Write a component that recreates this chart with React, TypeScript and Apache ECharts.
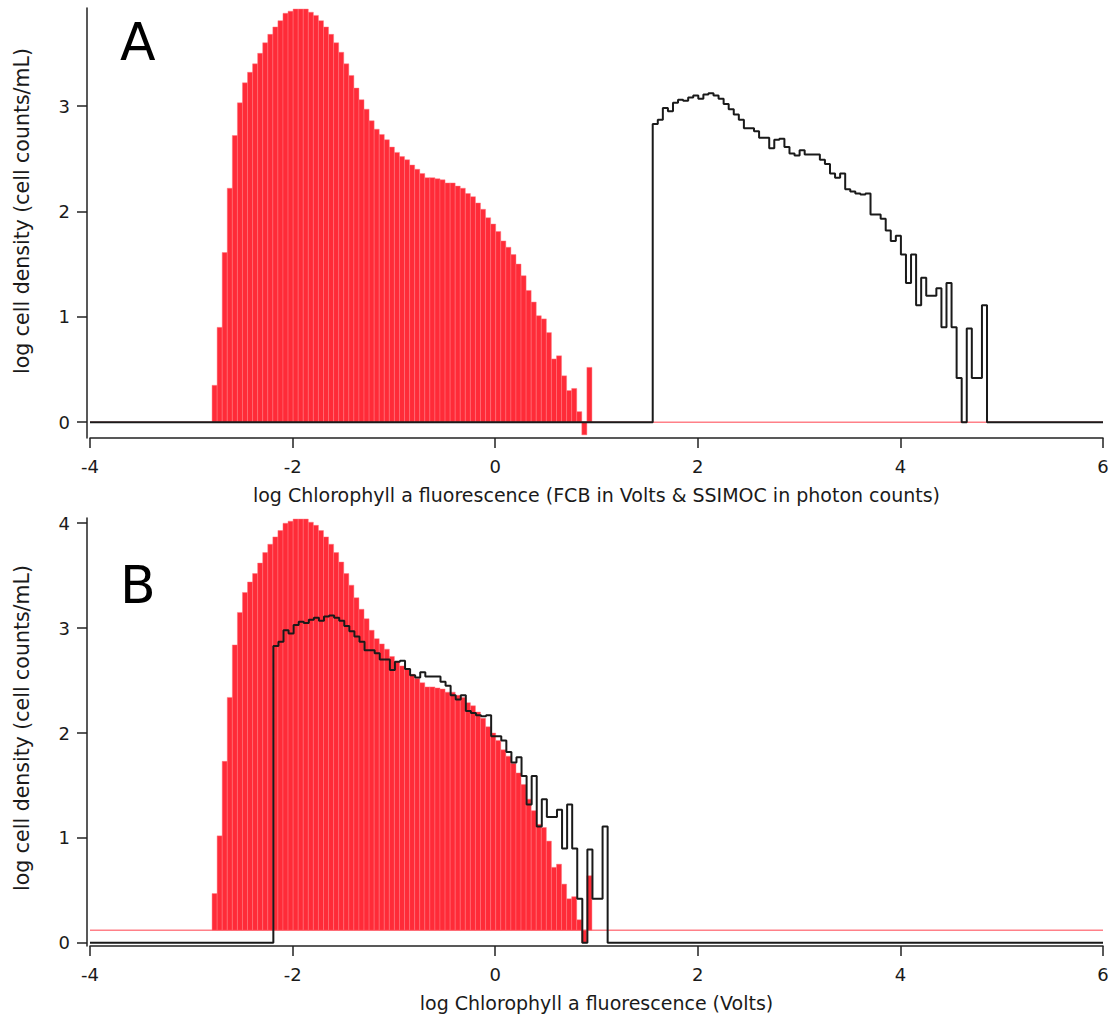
import React, { useEffect, useRef } from "react";
import * as echarts from "echarts";

// ---- tick labels ----
const X_TICKS = [-4, -2, 0, 2, 4, 6];
const Y_TICKS_A = [0, 1, 2, 3];
const Y_TICKS_B = [0, 1, 2, 3, 4];

// ---- texts ----
const X_TITLE_A = "log Chlorophyll a fluorescence (FCB in Volts & SSIMOC in photon counts)";
const X_TITLE_B = "log Chlorophyll a fluorescence (Volts)";
const Y_TITLE = "log cell density (cell counts/mL)";
const PANEL_LABELS = ["A", "B"];

// ---- red histogram (FCB) : bins of 0.05 log units ----
const RED_START = -2.795;
const RED_BIN = 0.05;
const RED_VALUES = [
  0.35, 0.9, 1.61, 2.22, 2.72, 3.03, 3.22, 3.32, 3.4, 3.5,
  3.6, 3.68, 3.75, 3.81, 3.88, 3.9, 3.92, 3.92, 3.92, 3.89,
  3.86, 3.81, 3.75, 3.68, 3.6, 3.51, 3.4, 3.29, 3.17, 3.06,
  2.97, 2.86, 2.78, 2.73, 2.68, 2.61, 2.56, 2.52, 2.49, 2.44,
  2.4, 2.36, 2.32, 2.32, 2.31, 2.3, 2.27, 2.27, 2.24, 2.22,
  2.17, 2.14, 2.08, 2.02, 1.94, 1.88, 1.81, 1.72, 1.66, 1.59,
  1.5, 1.39, 1.25, 1.14, 1.01, 0.98, 0.85, 0.6, 0.63, 0.44,
  0.3, 0.32, 0.1, -0.12, 0.52,
];
// baseline of the red histogram in each panel
const RED_BASE_A = 0;
const RED_BASE_B = 0.12;

// ---- black step histogram (SSIMOC) : bins of 0.05 log units ----
const BLACK_START_A = 1.555;
const BLACK_START_B = -2.19;
const BLACK_BIN = 0.05;
const BLACK_VALUES = [
  2.83, 2.87, 2.98, 2.95, 3.03, 3.06, 3.05, 3.08, 3.1, 3.07,
  3.11, 3.12, 3.1, 3.07, 3.02, 2.97, 2.92, 2.87, 2.79, 2.79,
  2.76, 2.7, 2.7, 2.6, 2.68, 2.69, 2.61, 2.55, 2.53, 2.58,
  2.54, 2.54, 2.54, 2.49, 2.45, 2.36, 2.32, 2.36, 2.21, 2.19,
  2.17, 2.16, 2.17, 1.97, 1.97, 1.93, 1.82, 1.72, 1.77, 1.59,
  1.32, 1.59, 1.11, 1.37, 1.2, 1.2, 1.27, 0.9, 1.32, 0.9,
  0.42, 0, 0.89, 0.42, 0.42, 1.11,
];

const X_MIN = -4;
const X_MAX = 6;
const Y_RANGE_A = [-0.15, 3.93];
const Y_RANGE_B = [-0.03, 4.05];

const FONT = "DejaVu Sans";
const TEXT_COLOR = "#1a1a1a";
const RED = "#ff2b38";
const RED_LINE = "#ff8088";
const BLACK = "#1a1a1a";

function redRows(base: number) {
  return RED_VALUES.map((v, i) => [
    RED_START + i * RED_BIN,
    RED_START + (i + 1) * RED_BIN,
    v + base,
    base,
  ]);
}

function blackPoints(start: number) {
  const pts: number[][] = [[X_MIN, 0]];
  BLACK_VALUES.forEach((v, i) => pts.push([start + i * BLACK_BIN, v]));
  pts.push([start + BLACK_VALUES.length * BLACK_BIN, 0]);
  pts.push([X_MAX, 0]);
  return pts;
}

export default function App() {
  const ref = useRef<HTMLDivElement>(null);

  useEffect(() => {
    if (!ref.current) return;
    const chart = echarts.init(ref.current, undefined, { renderer: "svg" });

    const renderBar = (params: any, api: any) => {
      const x0 = api.value(0);
      const x1 = api.value(1);
      const top = api.value(2);
      const base = api.value(3);
      const p0 = api.coord([x0, base]);
      const p1 = api.coord([x1, top]);
      return {
        type: "rect",
        shape: {
          x: p0[0],
          y: Math.min(p0[1], p1[1]),
          width: p1[0] - p0[0],
          height: Math.abs(p1[1] - p0[1]),
        },
        style: { fill: RED, stroke: "rgba(255,120,128,0.9)", lineWidth: 0.5 },
      };
    };

    const xAxisBase = (gridIndex: number, name: string) => ({
      type: "value",
      gridIndex,
      min: X_MIN,
      max: X_MAX,
      interval: 2,
      name,
      nameLocation: "middle",
      nameGap: 47,
      nameTextStyle: { fontFamily: FONT, fontSize: 19, color: TEXT_COLOR },
      axisLine: { show: true, onZero: false, lineStyle: { color: "#222", width: 1.5 } },
      axisTick: { show: true, inside: false, length: 10, lineStyle: { color: "#222", width: 1.5 } },
      axisLabel: {
        show: true,
        margin: 19,
        fontFamily: FONT,
        fontSize: 18,
        color: TEXT_COLOR,
        customValues: X_TICKS,
      },
      splitLine: { show: false },
    });

    const yAxisBase = (gridIndex: number, range: number[], ticks: number[]) => ({
      type: "value",
      gridIndex,
      min: range[0],
      max: range[1],
      offset: 3,
      axisLine: { show: true, onZero: false, lineStyle: { color: "#222", width: 1.5 } },
      axisTick: { show: true, inside: false, length: 10, customValues: ticks, lineStyle: { color: "#222", width: 1.5 } },
      axisLabel: {
        show: true,
        margin: 17,
        fontFamily: FONT,
        fontSize: 18,
        color: TEXT_COLOR,
        customValues: ticks,
      },
      splitLine: { show: false },
    });

    const yTitle = (y: number) => ({
      type: "text",
      x: 22,
      y,
      rotation: Math.PI / 2,
      style: {
        text: Y_TITLE,
        font: `20.5px "${FONT}"`,
        fill: TEXT_COLOR,
        textAlign: "center",
        textVerticalAlign: "middle",
      },
      z: 10,
    });

    const option: any = {
      animation: false,
      backgroundColor: "#ffffff",
      textStyle: { fontFamily: FONT },
      grid: [
        { left: 90, right: 11, top: 8, height: 430 },
        { left: 90, right: 11, top: 518, height: 428 },
      ],
      xAxis: [xAxisBase(0, X_TITLE_A), xAxisBase(1, X_TITLE_B)],
      yAxis: [
        yAxisBase(0, Y_RANGE_A, Y_TICKS_A),
        yAxisBase(1, Y_RANGE_B, Y_TICKS_B),
      ],
      series: [
        // Panel A
        {
          type: "line",
          xAxisIndex: 0,
          yAxisIndex: 0,
          data: [[X_MIN, RED_BASE_A], [X_MAX, RED_BASE_A]],
          symbol: "none",
          lineStyle: { color: RED_LINE, width: 1.5 },
          z: 1,
          silent: true,
        },
        {
          type: "custom",
          xAxisIndex: 0,
          yAxisIndex: 0,
          renderItem: renderBar,
          encode: { x: [0, 1], y: [2, 3] },
          data: redRows(RED_BASE_A),
          z: 2,
          silent: true,
        },
        {
          type: "line",
          xAxisIndex: 0,
          yAxisIndex: 0,
          step: "end",
          data: blackPoints(BLACK_START_A),
          symbol: "none",
          lineStyle: { color: BLACK, width: 2 },
          z: 3,
          silent: true,
        },
        // Panel B
        {
          type: "line",
          xAxisIndex: 1,
          yAxisIndex: 1,
          data: [[X_MIN, RED_BASE_B], [X_MAX, RED_BASE_B]],
          symbol: "none",
          lineStyle: { color: RED_LINE, width: 1.5 },
          z: 1,
          silent: true,
        },
        {
          type: "custom",
          xAxisIndex: 1,
          yAxisIndex: 1,
          renderItem: renderBar,
          encode: { x: [0, 1], y: [2, 3] },
          data: redRows(RED_BASE_B),
          z: 2,
          silent: true,
        },
        {
          type: "line",
          xAxisIndex: 1,
          yAxisIndex: 1,
          step: "end",
          data: blackPoints(BLACK_START_B),
          symbol: "none",
          lineStyle: { color: BLACK, width: 2 },
          z: 3,
          silent: true,
        },
      ],
      graphic: [
        yTitle(211),
        yTitle(728),
        {
          type: "text",
          left: 120,
          top: 16,
          style: { text: PANEL_LABELS[0], font: `52px "${FONT}"`, fill: "#000" },
          z: 10,
        },
        {
          type: "text",
          left: 120,
          top: 559,
          style: { text: PANEL_LABELS[1], font: `52px "${FONT}"`, fill: "#000" },
          z: 10,
        },
      ],
    };

    chart.setOption(option);
    return () => chart.dispose();
  }, []);

  return (
    <div
      ref={ref}
      style={{ position: "fixed", left: 0, top: 0, width: 1114, height: 1016, background: "#fff" }}
    />
  );
}
